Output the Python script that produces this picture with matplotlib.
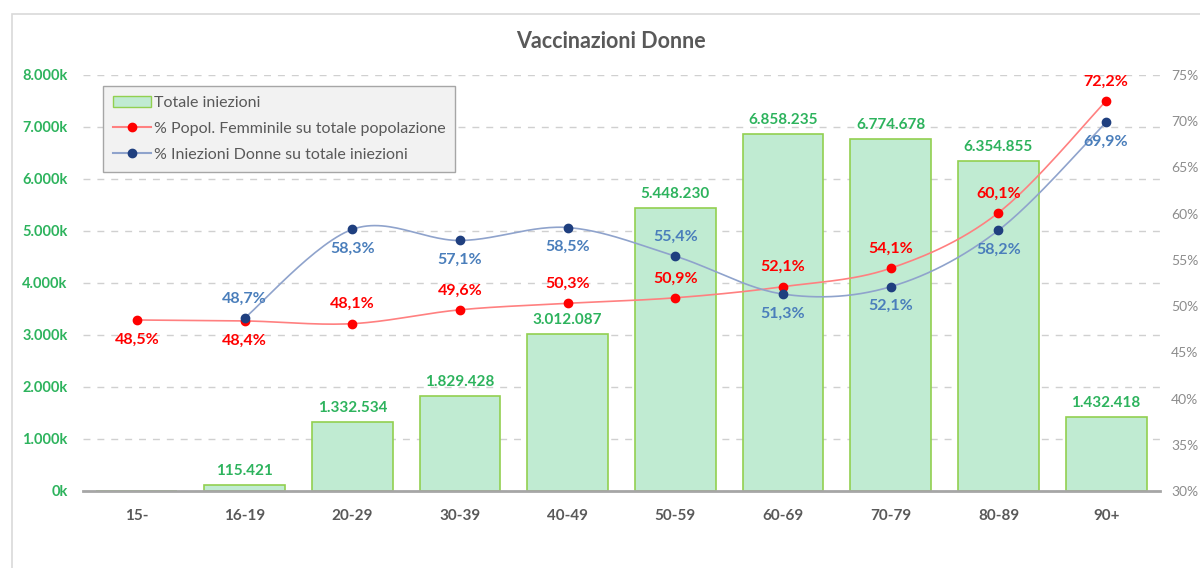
import numpy as np
import matplotlib
matplotlib.use("Agg")
import matplotlib.pyplot as plt
from matplotlib.patches import Rectangle, Patch
from matplotlib.lines import Line2D

plt.rcParams['font.family'] = ['Lato', 'DejaVu Sans']

# dati
fasce = ["15-", "16-19", "20-29", "30-39", "40-49", "50-59", "60-69", "70-79", "80-89", "90+"]
iniezioni = [0, 115421, 1332534, 1829428, 3012087, 5448230, 6858235, 6774678, 6354855, 1432418]
perc_popol = [48.5, 48.4, 48.1, 49.6, 50.3, 50.9, 52.1, 54.1, 60.1, 72.2]
perc_iniez = [None, 48.7, 58.3, 57.1, 58.5, 55.4, 51.3, 52.1, 58.2, 69.9]
# posizione etichette: 1 sopra, -1 sotto
pos_popol = [-1, -1, 1, 1, 1, 1, 1, 1, 1, 1]
pos_iniez = [0, 1, -1, -1, -1, 1, -1, -1, -1, -1]

verde = "#2db35d"
rosso = "#ff0000"
blu_scuro = "#1f3f7f"
blu_testo = "#4a7ebb"


def smooth(x, y, n=30):
    # curva tipo Excel (Catmull-Rom)
    x = np.asarray(x, float)
    y = np.asarray(y, float)
    px = np.concatenate([[x[0]], x, [x[-1]]])
    py = np.concatenate([[y[0]], y, [y[-1]]])
    xs, ys = [], []
    t = np.linspace(0, 1, n)
    for i in range(1, len(px) - 2):
        for p, out in ((px, xs), (py, ys)):
            p0, p1, p2, p3 = p[i - 1], p[i], p[i + 1], p[i + 2]
            out.extend(0.5 * ((2 * p1) + (-p0 + p2) * t + (2 * p0 - 5 * p1 + 4 * p2 - p3) * t ** 2
                              + (-p0 + 3 * p1 - 3 * p2 + p3) * t ** 3))
    return np.array(xs), np.array(ys)


def fmt_it(v):
    return "{:,}".format(v).replace(",", ".")


fig = plt.figure(figsize=(12, 5.68), dpi=100)
fig.patches.append(Rectangle((12 / 1200, -0.1), 1.1, (568 - 14) / 568 + 0.1, transform=fig.transFigure,
                             fill=False, edgecolor="#d9d9d9", linewidth=1.2))
ax = fig.add_axes([83 / 1200, 77 / 568, 1077 / 1200, 416 / 568])
ax2 = ax.twinx()

x = np.arange(len(fasce))
bars = ax.bar(x, iniezioni, width=0.75, color="#c0ebd2", edgecolor="#92d050", linewidth=1.2, zorder=2)
for xi, v in zip(x, iniezioni):
    if v > 0:
        ax.annotate(fmt_it(v), (xi, v), xytext=(0, 5), textcoords="offset points", ha="center", va="bottom",
                    color=verde, fontsize=11, fontweight="bold")

ax.set_xlim(-0.5, 9.5)
ax.set_ylim(0, 8000000)
ax.set_yticks(np.arange(0, 8000001, 1000000))
ax.set_yticklabels(["0k"] + [fmt_it(int(v / 1000)) + "k" for v in range(1000000, 8000001, 1000000)])
ax.yaxis.grid(True, linestyle=(0, (5, 5)), color="#d0d0d0", linewidth=1)
ax.set_axisbelow(True)
ax.tick_params(axis="y", length=0, labelcolor=verde, labelsize=10.5, pad=11)
for lab in ax.get_yticklabels():
    lab.set_fontweight("bold")
ax.set_xticks(x)
ax.set_xticklabels(fasce, fontsize=11, fontweight="bold", color="#595959")
ax.tick_params(axis="x", length=0, pad=13)
for s in ["top", "left", "right"]:
    ax.spines[s].set_visible(False)
    ax2.spines[s].set_visible(False)
ax.spines["bottom"].set_color("#a6a6a6")
ax.spines["bottom"].set_linewidth(2)
ax2.spines["bottom"].set_visible(False)

ax2.set_ylim(30, 75)
ax2.set_yticks(np.arange(30, 76, 5))
ax2.set_yticklabels(["{}%".format(v) for v in range(30, 76, 5)])
ax2.tick_params(axis="y", length=0, labelcolor="#8c8c8c", labelsize=10, pad=8)

# linea rossa
sx, sy = smooth(x, perc_popol)
ax2.plot(sx, sy, color="#ff8080", linewidth=1.2, zorder=3)
ax2.plot(x, perc_popol, "o", color=rosso, markersize=6, zorder=4)
for xi, v, p in zip(x, perc_popol, pos_popol):
    ax2.annotate("{:.1f}%".format(v).replace(".", ","), (xi, v), xytext=(0, 14 * p), textcoords="offset points",
                 ha="center", va="center", color=rosso, fontsize=11.5, fontweight="bold")

# linea blu
xb = [xi for xi, v in zip(x, perc_iniez) if v is not None]
yb = [v for v in perc_iniez if v is not None]
sx, sy = smooth(xb, yb)
ax2.plot(sx, sy, color="#8fa3cc", linewidth=1.2, zorder=3)
ax2.plot(xb, yb, "o", color=blu_scuro, markersize=6, zorder=4)
for xi, v, p in zip(x, perc_iniez, pos_iniez):
    if v is None:
        continue
    ax2.annotate("{:.1f}%".format(v).replace(".", ","), (xi, v), xytext=(0, 14 * p), textcoords="offset points",
                 ha="center", va="center", color=blu_testo, fontsize=11.5, fontweight="bold")

fig.text(611 / 1200, 1 - 42 / 568, "Vaccinazioni Donne", ha="center", va="center", fontsize=15.5,
         fontweight="bold", color="#595959")

handles = [Patch(facecolor="#c0ebd2", edgecolor="#92d050"),
           Line2D([], [], color="#ff8080", marker="o", markerfacecolor=rosso, markeredgecolor=rosso, markersize=6),
           Line2D([], [], color="#8fa3cc", marker="o", markerfacecolor=blu_scuro, markeredgecolor=blu_scuro,
                  markersize=6)]
leg = fig.legend(handles, ["Totale iniezioni", "% Popol. Femminile su totale popolazione",
                           "% Iniezioni Donne su totale iniezioni"],
                 loc="upper left", bbox_to_anchor=(103 / 1200, 1 - 86 / 568), borderaxespad=0, fontsize=11.5,
                 frameon=True, fancybox=False, edgecolor="#a6a6a6", facecolor="#f2f2f2", framealpha=1,
                 handlelength=2.4, handletextpad=0.2, borderpad=0.6, labelspacing=0.75)
for t in leg.get_texts():
    t.set_color("#595959")

fig.savefig("out.png", dpi=100)
